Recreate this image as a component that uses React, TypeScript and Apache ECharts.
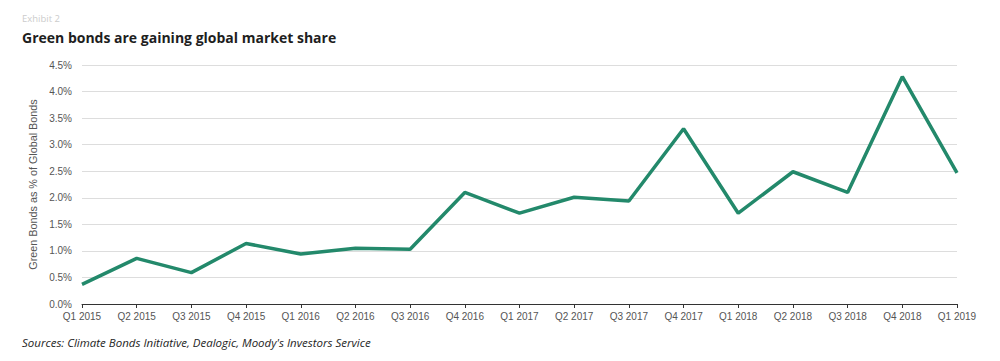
import React, { useEffect, useRef } from "react";
import * as echarts from "echarts";

const categories = [
  "Q1 2015", "Q2 2015", "Q3 2015", "Q4 2015",
  "Q1 2016", "Q2 2016", "Q3 2016", "Q4 2016",
  "Q1 2017", "Q2 2017", "Q3 2017", "Q4 2017",
  "Q1 2018", "Q2 2018", "Q3 2018", "Q4 2018",
  "Q1 2019",
];
const shareValues = [
  0.37, 0.86, 0.59, 1.14,
  0.94, 1.05, 1.03, 2.1,
  1.71, 2.01, 1.94, 3.3,
  1.71, 2.49, 2.1, 4.28,
  2.47,
];

export default function App() {
  const ref = useRef<HTMLDivElement>(null);
  useEffect(() => {
    if (!ref.current) return;
    const chart = echarts.init(ref.current, undefined, { renderer: "svg" });
    chart.setOption({
      animation: false,
      backgroundColor: "#ffffff",
      textStyle: { fontFamily: "'Liberation Sans', Arial, sans-serif" },
      graphic: [
        {
          type: "text",
          left: 22,
          top: 13,
          style: { text: "Exhibit 2", fill: "#cccccc", font: "9.5px 'Open Sans', sans-serif" },
        },
        {
          type: "text",
          left: 22,
          top: 30,
          style: {
            text: "Green bonds are gaining global market share",
            fill: "#1e1e1e",
            font: "bold 14px 'Open Sans', sans-serif",
          },
        },
        {
          type: "text",
          left: 22,
          top: 336,
          style: {
            text: "Sources: Climate Bonds Initiative, Dealogic, Moody's Investors Service",
            fill: "#1e1e1e",
            font: "italic 11.5px 'Open Sans', sans-serif",
          },
        },
      ],
      grid: { left: 82, right: 43, top: 65, bottom: 57, containLabel: false },
      xAxis: {
        type: "category",
        data: categories,
        boundaryGap: false,
        axisLine: { show: true, lineStyle: { color: "#333333", width: 1 } },
        axisTick: { show: true, alignWithLabel: true, length: 4, lineStyle: { color: "#333333" } },
        axisLabel: { color: "#555555", fontSize: 10, margin: 7, interval: 0 },
        splitLine: { show: false },
      },
      yAxis: {
        type: "value",
        min: 0,
        max: 4.5,
        interval: 0.5,
        name: "Green Bonds as % of Global Bonds",
        nameLocation: "middle",
        nameRotate: 90,
        nameGap: 43,
        nameTextStyle: { color: "#555555", fontSize: 10.8 },
        axisLine: { show: false },
        axisTick: { show: false },
        axisLabel: {
          color: "#555555",
          fontSize: 10,
          margin: 10,
          formatter: (v: number) => v.toFixed(1) + "%",
        },
        splitLine: { show: true, lineStyle: { color: "#dddddd", width: 1 } },
      },
      series: [
        {
          type: "line",
          data: shareValues,
          symbol: "none",
          lineStyle: { color: "#23896b", width: 3.5 },
          itemStyle: { color: "#23896b" },
        },
      ],
    });
    return () => chart.dispose();
  }, []);
  return <div ref={ref} style={{ width: 1000, height: 361, position: "absolute", left: 0, top: 0 }} />;
}
